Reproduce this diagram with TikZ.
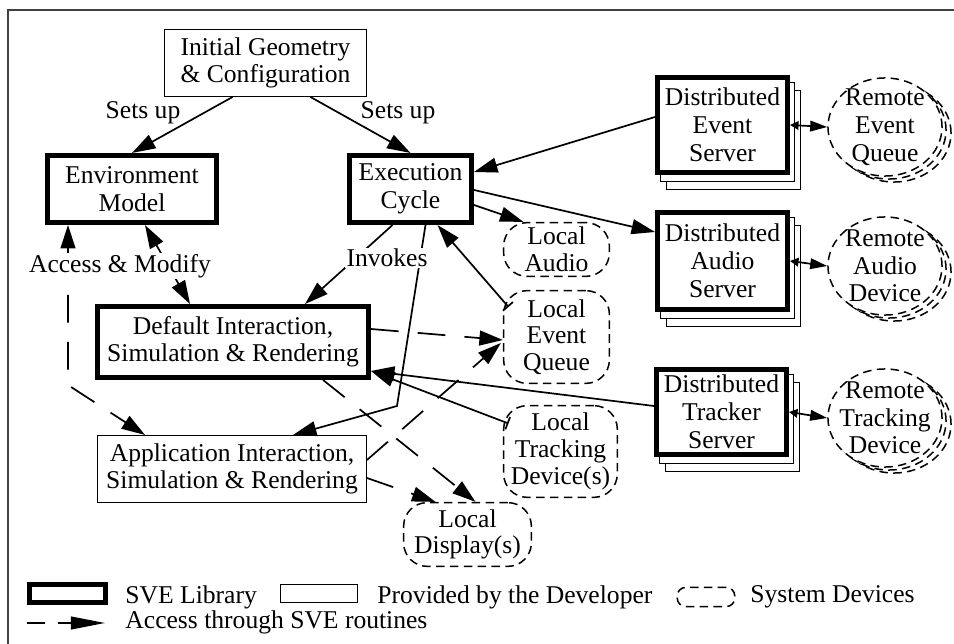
\documentclass[tikz,border=0pt]{standalone}
\usepackage{fontspec}
\setmainfont{Liberation Serif}
\usetikzlibrary{arrows.meta,shapes.geometric}

\tikzset{
  >={Triangle[length=11pt,width=7pt]},
  sve/.style={draw, line width=2.3pt, fill=white, align=center, inner sep=0pt},
  devbox/.style={draw, line width=0.5pt, fill=white, align=center, inner sep=0pt},
  sysdev/.style={draw, dash pattern=on 4pt off 2.5pt, line width=0.7pt,
    rounded corners=11pt, align=center, inner sep=0pt},
  remote/.style={ellipse, draw, dash pattern=on 4pt off 2.5pt, line width=0.7pt,
    fill=white, align=center, inner sep=-10pt, minimum width=53.5pt, minimum height=46pt,
    font=\fontsize{12pt}{13pt}\selectfont},
  srvback/.style={draw, line width=0.5pt, fill=white, minimum width=62.8pt, inner sep=0pt},
  conn/.style={line width=0.8pt, ->},
  access/.style={conn, dash pattern=on 13pt off 9pt},
  lbl/.style={inner sep=0.5pt, fill=white},
  lgtxt/.style={anchor=west, inner sep=0pt},
}

% stacked server: name, x, y, height, text
\newcommand{\drawServer}[5]{
    \node[srvback, minimum height=#4+1.8pt] (#1b2) at ({#2+11},{#3+15}) {};
    \node[srvback, minimum height=#4+1.8pt] (#1b1) at ({#2+5},{#3+7}) {};
    \node[sve, minimum width=61pt, minimum height=#4,
      font=\fontsize{12pt}{13.2pt}\selectfont] (#1) at (#2,#3) {#5};
}
% stacked remote device: name, x, y, text
\newcommand{\drawRemote}[4]{
    \node[remote] (#1b2) at ({#2+9},{#3+6}) {};
    \node[remote] (#1b1) at ({#2+4},{#3+3}) {};
    \node[remote] (#1) at (#2,#3) {#4};
}

\begin{document}
\begin{tikzpicture}[x=0.469pt, y=-0.469pt, font=\fontsize{12pt}{12.5pt}\selectfont]
\useasboundingbox (0,0) rectangle (954,644);

% Frame
\draw[line width=1pt, black!75] (8,644) -- (8,10) -- (954,10);

% Core modules
\node[devbox, minimum width=94.7pt, minimum height=31.4pt] (init) at (265.5,63)
  {Initial Geometry\\\& Configuration};
\node[sve, minimum width=79.3pt, minimum height=31.5pt,
  font=\fontsize{12pt}{13pt}\selectfont] (env) at (132,189) {Environment\\Model};
\node[sve, minimum width=57.3pt, minimum height=31.5pt,
  font=\fontsize{12pt}{13pt}\selectfont] (exec) at (410.5,189) {Execution\\Cycle};
\node[sve, minimum width=127.1pt, minimum height=33.3pt] (dflt) at (233,342)
  {Default Interaction,\\Simulation \& Rendering};
\node[devbox, minimum width=126.1pt, minimum height=31.4pt] (app) at (232,469)
  {Application Interaction,\\Simulation \& Rendering};

% Local devices
\node[sysdev, minimum width=49.6pt, minimum height=25.2pt] (laudio) at (556.5,249.5)
  {Local\\Audio};
\node[sysdev, minimum width=49.6pt, minimum height=43.5pt] (lqueue) at (556.5,337)
  {Local\\Event\\Queue};
\node[sysdev, minimum width=53.3pt, minimum height=43pt] (ltrack) at (560.5,451.5)
  {Local\\Tracking\\Device(s)};
\node[sysdev, minimum width=59.9pt, minimum height=29.9pt] (ldisp) at (467.5,534.5)
  {Local\\Display(s)};

% Distributed servers and remote devices
\drawServer{evsrv}{722.5}{125}{44.6pt}{Distributed\\Event\\Server}
\drawServer{ausrv}{722.5}{261}{45.5pt}{Distributed\\Audio\\Server}
\drawServer{trsrv}{721.5}{412}{40pt}{Distributed\\Tracker\\Server}
\drawRemote{rqueue}{885}{127}{Remote\\Event\\Queue}
\drawRemote{raudio}{885}{266}{Remote\\Audio\\Device}
\drawRemote{rtrack}{885}{418}{Remote\\Tracking\\Device}

% Setup arrows
\draw[conn] ([shift={(-33,0)}]init.south) -- (env.north);
\draw[conn] ([shift={(45,0)}]init.south) -- (exec.north);
\node (setupl) at (143,113) {Sets up};
\node (setupr) at (398,113) {Sets up};

% Execution cycle links
\draw[conn] ([shift={(0,-8)}]evsrv.west) -- ([shift={(0,-17)}]exec.east);
\draw[conn] ([shift={(0,1)}]exec.east) -- ([shift={(0,-29)}]ausrv.west);
\draw[conn] ([shift={(0,16)}]exec.east) -- ([shift={(-33,0)}]laudio.north);
\draw[conn, |->] ([shift={(-48,-30)}]lqueue.center) -- ([shift={(27,0)}]exec.south);

% Invokes
\coordinate (bendA) at (397,406);
\draw[conn] ([shift={(-18,0)}]exec.south) -- ([shift={(72,0)}]dflt.north);
\draw[conn] ([shift={(15,0)}]exec.south) -- (bendA) -- ([shift={(61,0)}]app.north);
\node[lbl] (invokes) at (387,258) {Invokes};

% Access & Modify
\coordinate (bendB) at (68,385);
\draw[access, <->] ([shift={(-64,0)}]env.south) -- (bendB) -- ([shift={(-87,0)}]app.north);
\draw[conn, <->] ([shift={(13,0)}]env.south) -- ([shift={(-43,0)}]dflt.north);
\node[lbl] (accmod) at (120,266) {Access \& Modify};

% Access through SVE routines
\draw[access] ([shift={(0,-13)}]dflt.east) -- ([shift={(0,3)}]lqueue.west);
\draw[access] ([shift={(0,-9)}]app.east) -- ([shift={(-2,6)}]lqueue.west);
\draw[access] ([shift={(90,0)}]dflt.south) -- ([shift={(8,0)}]ldisp.north);
\draw[access] ([shift={(0,9)}]app.east) -- ([shift={(-32,0)}]ldisp.north);

% Tracking
\draw[conn] ([shift={(0,-6)}]trsrv.west) -- ([shift={(0,29)}]dflt.east);
\draw[conn, |->] ([shift={(-52,-28)}]ltrack.center) -- ([shift={(0,29)}]dflt.east);

% Server to remote device
\foreach \s/\r in {evsrv/rqueue, ausrv/raudio, trsrv/rtrack}
  \draw[line width=0.8pt, {Triangle[length=4pt,width=4pt]}-{Triangle[length=8pt,width=5pt]}]
    (\s.east) -- (\r.west);

% Legend
\node[sve, minimum width=35.7pt, minimum height=8.5pt] (lgsve) at (67.5,593.5) {};
\node[lgtxt] (lgsvetxt) at (125,597) {SVE Library};
\node[devbox, minimum width=36.1pt, minimum height=8.4pt] (lgdev) at (319,593.5) {};
\node[lgtxt] (lgdevtxt) at (377,597) {Provided by the Developer};
\node[sysdev, rounded corners=4pt, minimum width=27pt, minimum height=9pt] (lgsys) at (706,597) {};
\node[lgtxt] (lgsystxt) at (750,597) {System Devices};
\coordinate (lgacc1) at (27,623);
\coordinate (lgacc2) at (105,623);
\draw[access, dash pattern=on 8.5pt off 6pt, -{Triangle[length=16pt,width=6pt]}] (lgacc1) -- (lgacc2);
\node[lgtxt] (lgacctxt) at (125,622) {Access through SVE routines};

\end{tikzpicture}
\end{document}
